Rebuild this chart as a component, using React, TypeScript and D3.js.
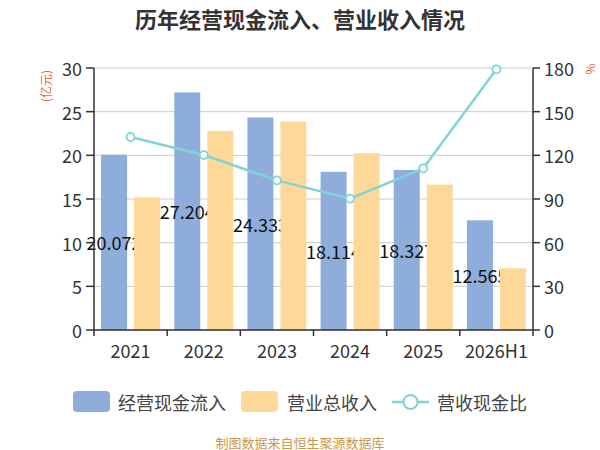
import React from "react";
import * as d3 from "d3";

const categories = ["2021", "2022", "2023", "2024", "2025", "2026H1"];
const cashInflow = [20.072, 27.204, 24.333, 18.114, 18.327, 12.565];
const revenue = [15.2, 22.8, 23.86, 20.24, 16.65, 7.07];
const ratio = [132.6, 120.2, 102.8, 90.2, 111.1, 179.1];
const leftTicks = [0, 5, 10, 15, 20, 25, 30];
const rightTicks = [0, 30, 60, 90, 120, 150, 180];

const W = 600;
const H = 450;
const L = 94;
const R = 533;
const T = 68;
const B = 330;

const BLUE = "#8eaddb";
const ORANGE = "#fed899";
const TEAL = "#80d4d6";
const FONT = "'Noto Sans CJK SC', 'Noto Sans', sans-serif";

export default function App() {
  const x = d3.scaleBand<string>().domain(categories).range([L, R]).padding(0);
  const inner = d3
    .scaleBand<string>()
    .domain(["cash", "rev"])
    .range([0, x.bandwidth()])
    .paddingInner(0.212)
    .paddingOuter(0.215);
  const yL = d3.scaleLinear().domain([0, 30]).range([B, T]);
  const yR = d3.scaleLinear().domain([0, 180]).range([B, T]);

  const line = d3
    .line<number>()
    .x((_, i) => (x(categories[i]) as number) + x.bandwidth() / 2)
    .y((d) => yR(d));

  const boundaries = [...categories.map((c) => x(c) as number), R];

  return (
    <svg
      width={W}
      height={H}
      style={{ position: "absolute", left: 0, top: 0, background: "#fff" }}
      fontFamily={FONT}
    >
      <text x={300} y={18} textAnchor="middle" dominantBaseline="central" fontSize={22} fontWeight="bold" fill="#333">
        历年经营现金流入、营业收入情况
      </text>

      {leftTicks.map((t) => (
        <line key={"g" + t} x1={L} x2={R} y1={yL(t)} y2={yL(t)} stroke="#cccccc" strokeWidth={1} />
      ))}

      {categories.map((c, i) => (
        <rect
          key={"b" + c}
          x={(x(c) as number) + (inner("cash") as number)}
          y={yL(cashInflow[i])}
          width={inner.bandwidth()}
          height={B - yL(cashInflow[i])}
          fill={BLUE}
        />
      ))}
      {categories.map((c, i) => (
        <text
          key={"l" + c}
          x={(x(c) as number) + (inner("cash") as number) + inner.bandwidth() / 2}
          y={(yL(cashInflow[i]) + B) / 2}
          textAnchor="middle"
          dominantBaseline="central"
          fontSize={18}
          fill="#111"
        >
          {cashInflow[i].toFixed(3)}
        </text>
      ))}
      {categories.map((c, i) => (
        <rect
          key={"o" + c}
          x={(x(c) as number) + (inner("rev") as number)}
          y={yL(revenue[i])}
          width={inner.bandwidth()}
          height={B - yL(revenue[i])}
          fill={ORANGE}
        />
      ))}

      <line x1={L} x2={R} y1={B} y2={B} stroke="#333" strokeWidth={1.5} />
      <line x1={L} x2={L} y1={T} y2={B} stroke="#333" strokeWidth={1.5} />
      <line x1={R} x2={R} y1={T} y2={B} stroke="#333" strokeWidth={1.5} />
      {boundaries.map((bx, i) => (
        <line key={"xt" + i} x1={bx} x2={bx} y1={B} y2={B + 6} stroke="#333" strokeWidth={1.5} />
      ))}
      {categories.map((c) => (
        <text
          key={"xl" + c}
          x={(x(c) as number) + x.bandwidth() / 2}
          y={350}
          textAnchor="middle"
          dominantBaseline="central"
          fontSize={18}
          fill="#333"
        >
          {c}
        </text>
      ))}
      {leftTicks.map((t) => (
        <g key={"lt" + t}>
          <line x1={L - 8} x2={L} y1={yL(t)} y2={yL(t)} stroke="#333" strokeWidth={1.5} />
          <text x={82} y={yL(t)} textAnchor="end" dominantBaseline="central" fontSize={18} fill="#333">
            {t}
          </text>
        </g>
      ))}
      {rightTicks.map((t) => (
        <g key={"rt" + t}>
          <line x1={R} x2={R + 7} y1={yR(t)} y2={yR(t)} stroke="#333" strokeWidth={1.5} />
          <text x={544} y={yR(t)} textAnchor="start" dominantBaseline="central" fontSize={18} fill="#333">
            {t}
          </text>
        </g>
      ))}
      <text
        transform="translate(45,86) rotate(-90)"
        textAnchor="middle"
        dominantBaseline="central"
        fontSize={12}
        fill="#e8693d"
      >
        (亿元)
      </text>
      <text
        transform="translate(591,69) rotate(90)"
        textAnchor="middle"
        dominantBaseline="central"
        fontSize={12}
        fill="#e8693d"
      >
        %
      </text>

      <path d={line(ratio) || ""} fill="none" stroke={TEAL} strokeWidth={2.5} />
      {ratio.map((v, i) => (
        <circle
          key={"c" + i}
          cx={(x(categories[i]) as number) + x.bandwidth() / 2}
          cy={yR(v)}
          r={4}
          fill="#fff"
          stroke={TEAL}
          strokeWidth={1.8}
        />
      ))}

      <rect x={73} y={391} width={37} height={21} rx={4} fill={BLUE} />
      <text x={118} y={402} dominantBaseline="central" fontSize={18} fill="#444">
        经营现金流入
      </text>
      <rect x={241} y={391} width={37} height={21} rx={4} fill={ORANGE} />
      <text x={287} y={402} dominantBaseline="central" fontSize={18} fill="#444">
        营业总收入
      </text>
      <line x1={392} x2={429} y1={402} y2={402} stroke={TEAL} strokeWidth={2.5} />
      <circle cx={410.5} cy={402} r={7} fill="#fff" stroke={TEAL} strokeWidth={2} />
      <text x={437} y={402} dominantBaseline="central" fontSize={18} fill="#444">
        营收现金比
      </text>

      <text x={300} y={442} textAnchor="middle" dominantBaseline="central" fontSize={13} fill="#c9994a">
        制图数据来自恒生聚源数据库
      </text>
    </svg>
  );
}
